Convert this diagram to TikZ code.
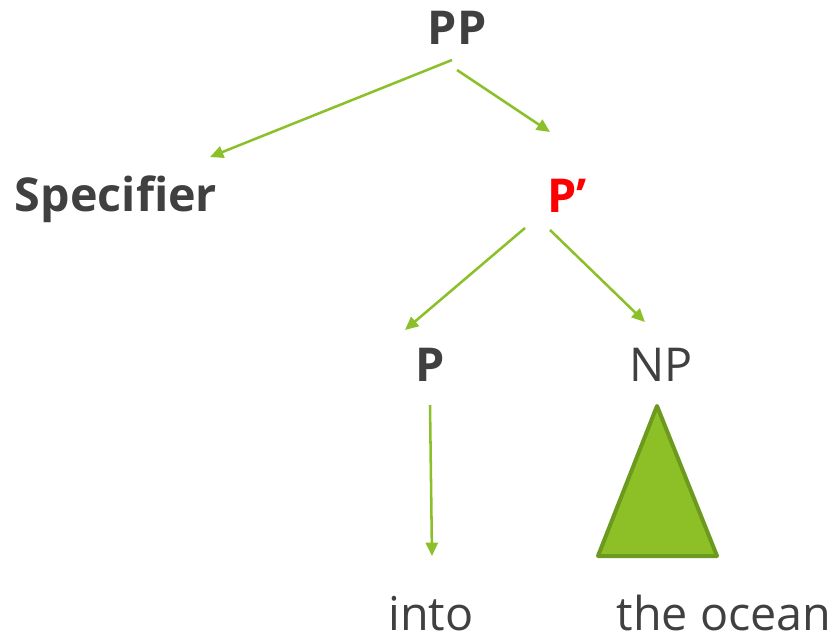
\documentclass[tikz,border=0pt]{standalone}
\usepackage{fontspec}
\setmainfont{Open Sans}
\usetikzlibrary{arrows.meta}
\definecolor{txt}{HTML}{404040}
\definecolor{arr}{HTML}{8CC02A}
\definecolor{trifill}{HTML}{8DC026}
\definecolor{triline}{HTML}{6B9A1E}
\tikzset{
  lbl/.style={anchor=base, inner sep=0pt, text=txt, font=\fontsize{35}{40}\selectfont\bfseries},
  lblr/.style={anchor=base, inner sep=0pt, text=txt, font=\fontsize{35}{40}\selectfont},
  conn/.style={draw=arr, line width=1.9pt, -{Triangle[length=10pt,width=9pt]}},
}
\begin{document}
\begin{tikzpicture}[x=0.75pt, y=-0.75pt]
\useasboundingbox (0,0) rectangle (835,641);
\node[lbl] (pp) at (457,45) {PP};
\node[lbl] (spec) at (116,212) {Specifier};
\node[lbl, text=red] (pbar) at (567,213) {P’};
\node[lbl] (p) at (430,382) {P};
\node[lblr] (np) at (661,382) {NP};
\node[lblr] (into) at (431,630) {into};
\node[lblr] (ocean) at (724,630) {the ocean};
% connector ends
\coordinate (a1s) at (452,60);  \coordinate (a1e) at (210,157);
\coordinate (a2s) at (457,70);  \coordinate (a2e) at (550,132);
\coordinate (a3s) at (525,228); \coordinate (a3e) at (405,330);
\coordinate (a4s) at (550,230); \coordinate (a4e) at (645,322);
\coordinate (a5s) at (430,405); \coordinate (a5e) at (432,556);
\draw[conn] (a1s) -- (a1e);
\draw[conn] (a2s) -- (a2e);
\draw[conn] (a3s) -- (a3e);
\draw[conn] (a4s) -- (a4e);
\draw[conn] (a5s) -- (a5e);
% triangle under NP
\coordinate (tApex) at (657,406);
\coordinate (tL) at (598,556);
\coordinate (tR) at (717,556);
\draw[fill=trifill, draw=triline, line width=3pt, line join=round] (tApex) -- (tL) -- (tR) -- cycle;
\end{tikzpicture}
\end{document}
